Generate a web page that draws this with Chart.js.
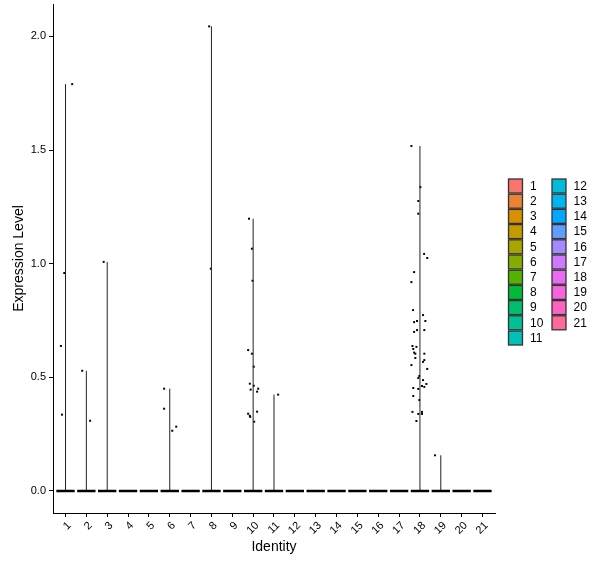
<!DOCTYPE html>
<html>
<head>
<meta charset="utf-8">
<script src="https://cdn.jsdelivr.net/npm/chart.js@4.4.1/dist/chart.umd.min.js"></script>
<style>
  html, body { margin: 0; padding: 0; background: #fff; }
</style>
</head>
<body>
<canvas id="vln" width="600" height="568"></canvas>
<script>
// ---- Identities and their colours (ggplot hue palette) ----
const IDENTS = ["1","2","3","4","5","6","7","8","9","10","11","12","13","14","15","16","17","18","19","20","21"];
const CLUSTER_COLORS = [
  "#F8766D","#EB8335","#DA8F00","#C49A00","#A9A400","#86AC00","#53B400",
  "#00BA38","#00BE6D","#00C094","#00C0B8","#00BCD8","#00B4F0","#00A8FF",
  "#619CFF","#A58AFF","#D078FF","#EB6AF2","#F863DF","#FF62C0","#FF6A9A"
];
const Y_TICKS = [0, 0.5, 1.0, 1.5, 2.0];

// ---- Non-zero cells per identity: [jitter, expression] ----
const CELLS_1  = [[0.32,1.79],[-0.06,0.959],[-0.22,0.638],[-0.17,0.336]];
const CELLS_2  = [[-0.2,0.529],[0.18,0.309]];
const CELLS_3  = [[-0.17,1.008]];
const CELLS_6  = [[-0.27,0.45],[-0.27,0.362],[0.31,0.283],[0.12,0.265]];
const CELLS_8  = [[-0.11,2.044],[-0.03,0.978]];
const CELLS_10 = [
  [-0.2,1.198],[-0.06,1.066],[-0.03,0.925],[-0.24,0.62],[-0.06,0.604],[0.03,0.547],
  [-0.16,0.472],[0.03,0.463],[-0.12,0.446],[0.24,0.45],[0.19,0.437],[0.19,0.349],
  [-0.24,0.34],[-0.16,0.331],[-0.14,0.326],[0.05,0.305]
];
const CELLS_11 = [[0.2,0.424]];
const CELLS_18 = [
  [-0.41,1.518],[0.02,1.337],[-0.08,1.276],[-0.08,1.22],[0.2,1.043],[0.35,1.025],
  [-0.28,0.963],[-0.41,0.919],[-0.33,0.796],[0.15,0.774],[-0.28,0.743],[-0.14,0.748],
  [0.26,0.748],[-0.28,0.7],[-0.14,0.708],[0.21,0.708],[-0.36,0.638],[-0.17,0.634],
  [-0.32,0.625],[-0.28,0.609],[-0.22,0.604],[0.21,0.604],[-0.22,0.585],[0.21,0.576],
  [0.15,0.568],[-0.41,0.554],[0.35,0.537],[-0.03,0.506],[-0.08,0.497],[0.15,0.488],
  [0.31,0.471],[0.1,0.462],[0.21,0.458],[-0.32,0.453],[-0.08,0.449],[-0.32,0.418],
  [-0.03,0.4],[-0.36,0.348],[-0.08,0.339],[0.1,0.348],[0.1,0.339],[-0.17,0.308]
];
const CELLS_19 = [[-0.28,0.157]];

const CELLS_BY_IDENT = [
  CELLS_1, CELLS_2, CELLS_3, [], [], CELLS_6, [], CELLS_8, [], CELLS_10, CELLS_11,
  [], [], [], [], [], [], CELLS_18, CELLS_19, [], []
];

// ---- Build datasets ----
const datasets = [];
const points = [];

IDENTS.forEach((lab, i) => {
  const pos = i + 1;
  const cells = CELLS_BY_IDENT[i];
  const top = cells.length ? Math.max(...cells.map(c => c[1])) : 0;

  // collapsed violin: full width at zero, thread up to the max
  datasets.push({
    type: "line",
    data: [{ x: pos - 0.44, y: 0 }, { x: pos + 0.44, y: 0 }],
    borderColor: "#000",
    borderWidth: 2.5,
    pointRadius: 0,
  });
  if (top > 0) {
    datasets.push({
      type: "line",
      data: [{ x: pos, y: 0 }, { x: pos, y: top }],
      borderColor: "#222",
      backgroundColor: CLUSTER_COLORS[i],
      borderWidth: 1,
      pointRadius: 0,
    });
  }
  cells.forEach(c => points.push({ x: pos + c[0], y: c[1] }));
});

datasets.push({
  type: "scatter",
  data: points,
  pointStyle: "rect",
  pointRadius: 1.4,
  pointBorderWidth: 0,
  pointBackgroundColor: "#000",
});

// ---- Legend drawn by hand (two columns of keys) ----
const legendKeys = {
  id: "legendKeys",
  afterDraw(chart) {
    const ctx = chart.ctx;
    ctx.save();
    ctx.font = '12px "Liberation Sans", Arial, sans-serif';
    ctx.textBaseline = "middle";
    ctx.textAlign = "left";
    IDENTS.forEach((lab, i) => {
      const col = i < 11 ? 0 : 1;
      const row = i < 11 ? i : i - 11;
      const x = 508.5 + col * 43.5;
      const y = 179 + row * 15.2;
      ctx.fillStyle = CLUSTER_COLORS[i];
      ctx.fillRect(x, y, 14, 14);
      ctx.strokeStyle = "#333";
      ctx.lineWidth = 1.3;
      ctx.strokeRect(x, y, 14, 14);
      ctx.fillStyle = "#000";
      ctx.fillText(lab, x + 21.5, y + 7.5);
    });
    ctx.restore();
  }
};

const tickFont = { family: '"Liberation Sans", Arial, sans-serif', size: 11 };
const titleFont = { family: '"Liberation Sans", Arial, sans-serif', size: 14 };

new Chart(document.getElementById("vln"), {
  data: { datasets },
  options: {
    responsive: false,
    animation: false,
    devicePixelRatio: 1,
    layout: { padding: { top: 3, right: 105, left: 0, bottom: 0 } },
    plugins: { legend: { display: false }, tooltip: { enabled: false } },
    scales: {
      x: {
        type: "linear",
        min: 0.4,
        max: 21.6,
        afterBuildTicks: s => { s.ticks = IDENTS.map((_, i) => ({ value: i + 1 })); },
        afterFit: s => { s.height = 55; s.paddingLeft = 0; s.paddingRight = 0; },
        grid: { display: true, drawOnChartArea: false, drawTicks: true, tickLength: 4, color: "#000" },
        border: { display: true, color: "#000", width: 1 },
        ticks: {
          autoSkip: false,
          minRotation: 45,
          maxRotation: 45,
          padding: 2,
          labelOffset: 4,
          color: "#000",
          font: tickFont,
          callback: v => IDENTS[v - 1],
        },
        title: { display: true, text: "Identity", color: "#000", font: titleFont, padding: { top: 0, bottom: 12 } },
      },
      y: {
        min: -0.0968,
        max: 2.1425,
        afterBuildTicks: s => { s.ticks = Y_TICKS.map(v => ({ value: v })); },
        afterFit: s => { s.width = 53; s.paddingTop = 0; s.paddingBottom = 0; },
        grid: { display: true, drawOnChartArea: false, drawTicks: true, tickLength: 4, color: "#000" },
        border: { display: true, color: "#000", width: 1 },
        ticks: {
          padding: 3,
          color: "#000",
          font: tickFont,
          callback: v => v.toFixed(1),
        },
        title: { display: true, text: "Expression Level", color: "#000", font: titleFont, padding: { top: 11, bottom: 0 } },
      },
    },
  },
  plugins: [legendKeys],
});
</script>
</body>
</html>
